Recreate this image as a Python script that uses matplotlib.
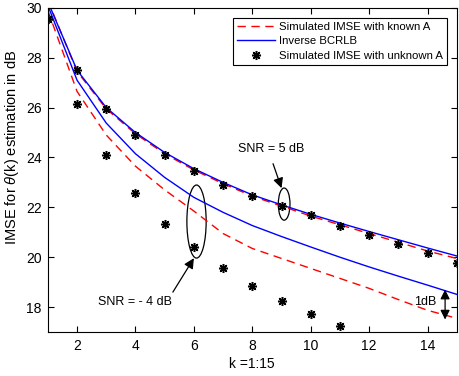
import numpy as np
import matplotlib
matplotlib.use('Agg')
from matplotlib import pyplot as pl
from matplotlib.patches import Ellipse

pl.rcParams['font.family'] = ['Liberation Sans', 'DejaVu Sans']
pl.rcParams['font.size'] = 9
pl.rcParams['mathtext.fontset'] = 'custom'
pl.rcParams['mathtext.it'] = 'Liberation Sans:italic'

k = np.arange(1, 16)

# SNR = 5 dB
known_5 = [30.3, 27.45, 25.95, 24.95, 24.15, 23.5, 22.95, 22.45, 22.05, 21.65, 21.3, 20.95, 20.6, 20.25, 19.95]
bcrlb_5 = [30.25, 27.5, 26.0, 25.0, 24.2, 23.55, 23.0, 22.5, 22.1, 21.72, 21.37, 21.03, 20.7, 20.37, 20.05]
unknown_5 = [29.55, 27.5, 25.95, 24.9, 24.1, 23.45, 22.9, 22.45, 22.05, 21.68, 21.27, 20.88, 20.52, 20.16, 19.77]

# SNR = -4 dB
known_m4 = [29.9, 26.65, 24.9, 23.65, 22.7, 21.85, 20.95, 20.35, 19.95, 19.55, 19.15, 18.75, 18.3, 17.87, 17.55]
bcrlb_m4 = [30.1, 27.1, 25.38, 24.15, 23.2, 22.4, 21.8, 21.27, 20.83, 20.41, 20.0, 19.61, 19.24, 18.88, 18.51]
unknown_m4 = [29.55, 26.15, 24.1, 22.56, 21.35, 20.39, 19.57, 18.85, 18.25, 17.71, 17.24, 16.8, 16.4, 16.0, 15.6]

fig = pl.figure(figsize=(4.6, 3.76), dpi=100)
ax = fig.add_axes([0.104, 0.117, 0.889, 0.862])

star = (8, 2, 0)
ax.plot(k, known_5, 'r--', lw=1, dashes=(6, 4), label='Simulated IMSE with known A')
ax.plot(k, bcrlb_5, 'b-', lw=1, label='Inverse BCRLB')
ax.plot(k, unknown_5, ls='none', marker=star, color='k', ms=6.5, mew=1.1, label='Simulated IMSE with unknown A')
ax.plot(k, known_m4, 'r--', lw=1, dashes=(6, 4))
ax.plot(k, bcrlb_m4, 'b-', lw=1)
ax.plot(k, unknown_m4, ls='none', marker=star, color='k', ms=6.5, mew=1.1)

ax.set_xlim(1, 15)
ax.set_ylim(17, 30)
ax.set_xticks(range(2, 16, 2))
ax.set_yticks(range(18, 31, 2))
ax.tick_params(direction='in', top=True, right=True, length=4, labelsize=10)
ax.tick_params(axis='x', pad=5)
ax.tick_params(axis='y', pad=4.5)
for s in ax.spines.values():
    s.set_linewidth(0.8)
ax.set_xlabel('k =1:15', fontsize=10, labelpad=3)
ax.set_ylabel(r'IMSE for $\theta$(k) estimation in dB', fontsize=10.5)
ax.yaxis.set_label_coords(-0.066, 0.571)

ax.add_patch(Ellipse((9.09, 22.13), 0.4, 1.29, fill=False, color='k', lw=0.9))
ax.add_patch(Ellipse((6.09, 21.43), 0.66, 2.93, fill=False, color='k', lw=0.9))

arrow = dict(arrowstyle='-|>', color='k', lw=0.9, mutation_scale=15, shrinkA=0, shrinkB=0)
ax.annotate('', xy=(9.0, 22.77), xytext=(8.71, 23.75), arrowprops=arrow)
ax.text(8.66, 24.34, 'SNR = 5 dB', ha='center', va='center')
ax.annotate('', xy=(6.0, 19.96), xytext=(5.28, 18.6), arrowprops=arrow)
ax.text(3.97, 18.19, 'SNR = - 4 dB', ha='center', va='center')

ax.annotate('', xy=(14.6, 17.5), xytext=(14.6, 18.7),
            arrowprops=dict(arrowstyle='<|-|>', color='k', lw=0.9, mutation_scale=14, shrinkA=0, shrinkB=0))
ax.text(13.91, 18.2, '1dB', ha='center', va='center')

leg = ax.legend(loc='upper right', fontsize=8.2, fancybox=False, edgecolor='k',
                framealpha=1, borderaxespad=0.85, handlelength=3.3,
                borderpad=0.35, labelspacing=0.4, handletextpad=0.4)
leg.get_frame().set_linewidth(0.8)

fig.savefig('out.png', dpi=100)
